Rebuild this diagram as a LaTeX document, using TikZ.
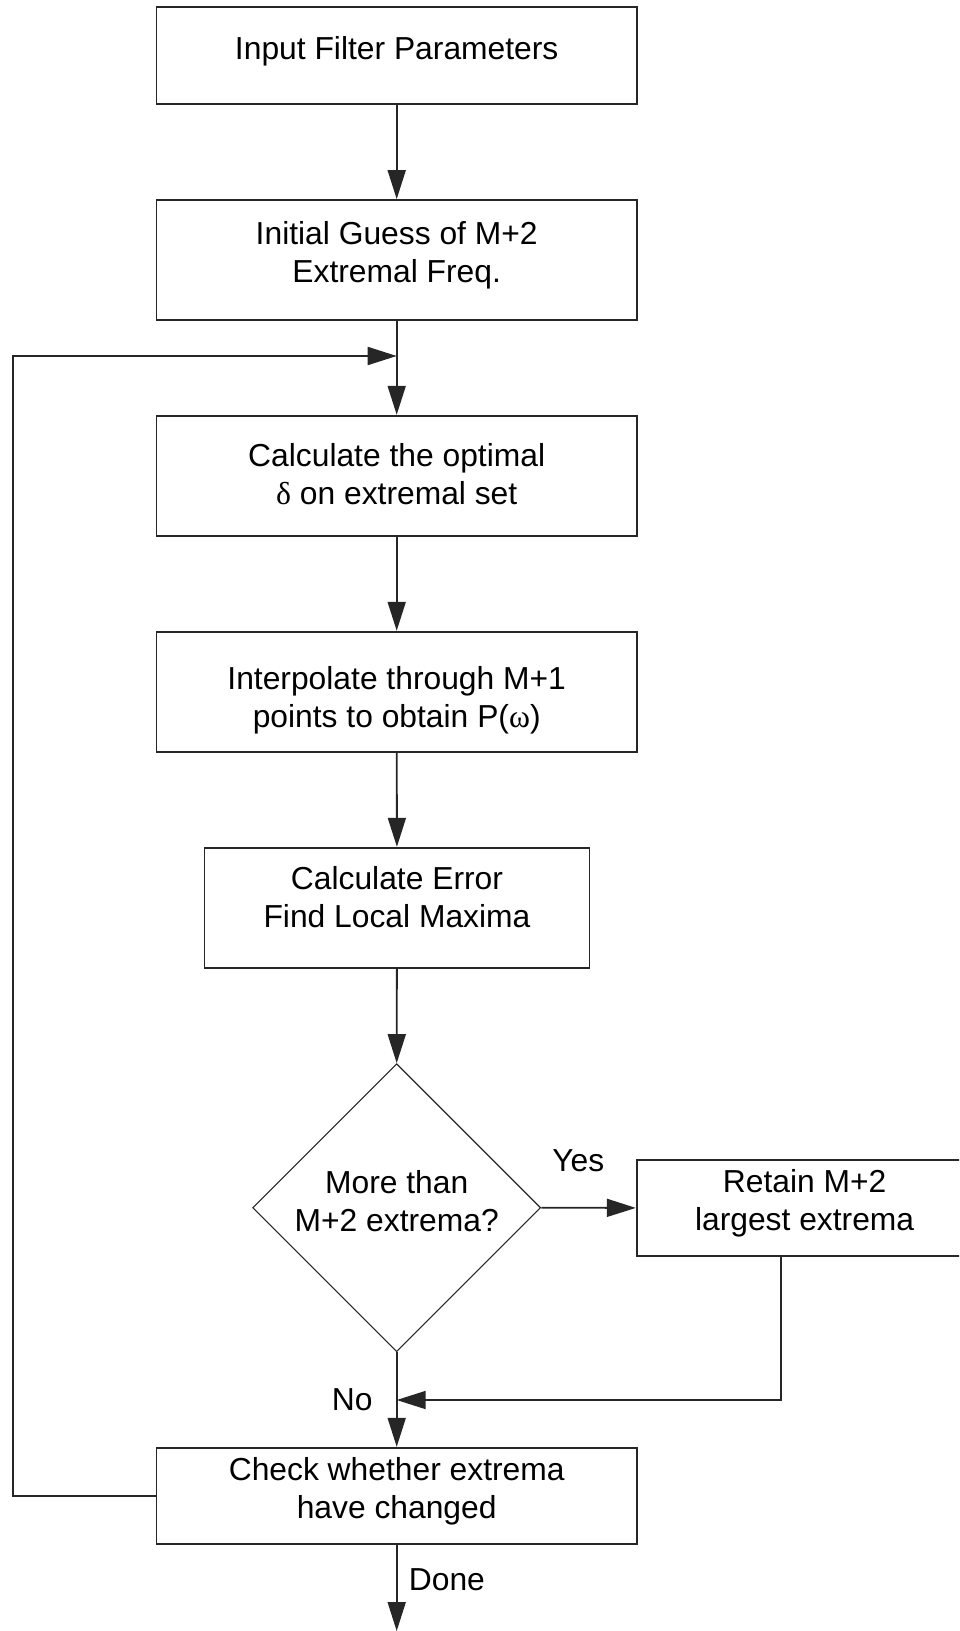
\documentclass[tikz,border=0pt]{standalone}
\usepackage{fontspec}
\setmainfont{Liberation Sans}
\newfontfamily\symfont{Liberation Serif}
\usetikzlibrary{arrows.meta,shapes.geometric}

\begin{document}
\begin{tikzpicture}[x=0.5pt,y=-0.5pt,
    font=\fontsize{15.9}{19}\selectfont,
    line width=0.9pt,
    box/.style={draw=black!85, minimum width=240.15pt, minimum height=60pt, inner sep=0pt},
    txt/.style={align=center, inner sep=0pt},
    decision/.style={diamond, draw=black!85, line width=0.55pt, minimum width=144pt, minimum height=144pt, inner sep=0pt},
    flow/.style={draw=black!85, -{Triangle[length=14.5pt,width=9pt]}}]

    \clip (0,0) rectangle (959,1631);

    % boxes
    \node[box, minimum height=48.35pt] (input) at (396.7,55.7) {};
    \node[box] (guess) at (396.7,260) {};
    \node[box] (delta) at (396.7,475.7) {};
    \node[box] (interp) at (396.7,691.7) {};
    \node[box, minimum width=192.45pt] (error) at (397,907.7) {};
    \node[decision] (test) at (396.7,1207.7) {};
    \node[box, minimum width=167.9pt, minimum height=47.85pt] (retain) at (804.6,1207.9) {};
    \node[box, minimum height=48pt] (check) at (396.7,1495.7) {};

    % texts
    \node[txt] (tinput) at (396.7,51.7) {Input Filter Parameters\strut};
    \node[txt] (tguess) at (396.7,256.4) {Initial Guess of M+2\strut\\Extremal Freq.\strut};
    \node[txt] (tdelta) at (396.7,478.1) {Calculate the optimal\strut\\{\symfont δ} on extremal set\strut};
    \node[txt] (tinterp) at (396.7,700.4) {Interpolate through M+1\strut\\points to obtain P({\symfont ω})\strut};
    \node[txt] (terror) at (397,900.7) {Calculate Error\strut\\Find Local Maxima\strut};
    \node[txt] (ttest) at (396.7,1205) {More than\strut\\M+2 extrema?\strut};
    \node[txt] (tretain) at (804.6,1204.1) {Retain M+2\strut\\largest extrema\strut};
    \node[txt] (tcheck) at (396.7,1491.4) {Check whether extrema\strut\\have changed\strut};
    \node[txt] (yes) at (578.3,1164.1) {Yes\strut};
    \node[txt] (no) at (352.3,1402.4) {No\strut};
    \node[txt] (done) at (446.9,1582.4) {Done\strut};

    \coordinate (join) at (396.7,356);
    \coordinate (back) at (12.7,356);
    \coordinate (merge) at (396.7,1400);
    \coordinate (turn) at (781,1400);
    \coordinate (finish) at (396.7,1631);

    % connectors
    \draw[flow] (input) -- (guess);
    \draw[flow] (guess) -- (delta);
    \draw[flow] (delta) -- (interp);
    \draw[flow] (interp) -- (error);
    \draw[flow] (error) -- (test.north);
    \draw[flow] (test.east) -- (retain.west);
    \draw[flow] (test.south) -- (check.north);
    \draw[flow] (retain.south -| turn) |- (merge);
    \draw[flow] (check.west) -| (back) -- (join);
    \draw[flow] (check.south) -- (finish);
\end{tikzpicture}
\end{document}
